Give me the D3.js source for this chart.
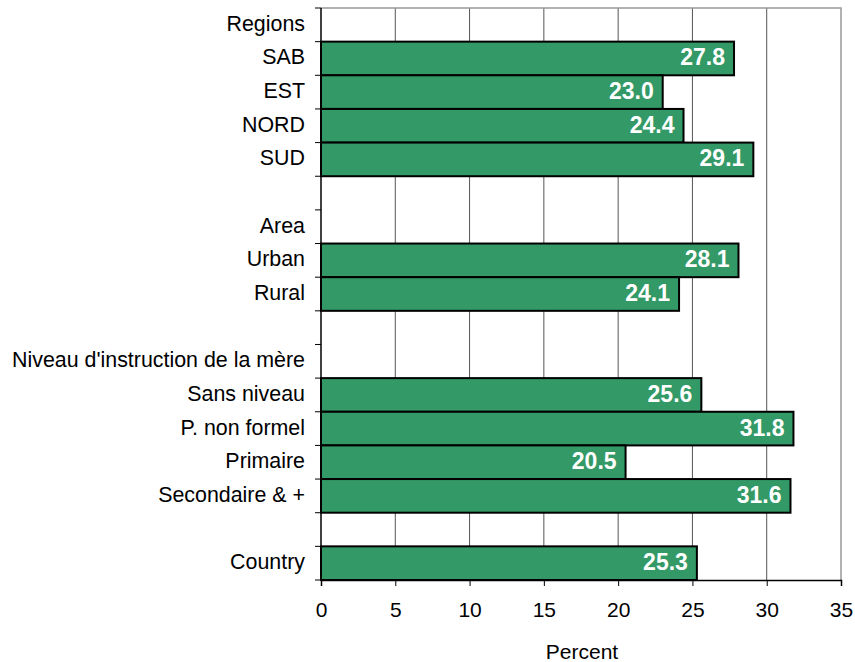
<!DOCTYPE html>
<html>
<head>
<meta charset="utf-8">
<script src="https://cdn.jsdelivr.net/npm/d3@7"></script>
<style>
  html, body { margin: 0; padding: 0; background: #fff; }
  text { font-family: "Liberation Sans", Arial, sans-serif; }
</style>
</head>
<body>
<div id="chart"></div>
<script>
// Row labels, top to bottom (blank rows separate the groups)
const categories = [
  "Regions", "SAB", "EST", "NORD", "SUD", "",
  "Area", "Urban", "Rural", "",
  "Niveau d'instruction de la mère", "Sans niveau", "P. non formel", "Primaire", "Secondaire & +", "",
  "Country"
];
// Percent per row (null = heading or spacer row, no bar)
const values = [
  null, 27.8, 23.0, 24.4, 29.1, null,
  null, 28.1, 24.1, null,
  null, 25.6, 31.8, 20.5, 31.6, null,
  25.3
];
const xTicks = [0, 5, 10, 15, 20, 25, 30, 35];
const xTitle = "Percent";

const W = 855, H = 662;
const plotL = 321, plotR = 841, plotT = 8, plotB = 580;

const svg = d3.select("#chart").append("svg")
  .attr("width", W).attr("height", H);

const x = d3.scaleLinear().domain([0, 35]).range([plotL, plotR]);
const y = d3.scaleBand().domain(d3.range(categories.length)).range([plotT, plotB]).padding(0);

// vertical gridlines
svg.append("g").selectAll("line")
  .data(xTicks.filter(t => t > 0 && t < 35))
  .join("line")
  .attr("x1", d => x(d)).attr("x2", d => x(d))
  .attr("y1", plotT).attr("y2", plotB)
  .attr("stroke", "#555").attr("stroke-width", 1);

// plot frame: top and right edges
svg.append("path")
  .attr("d", `M${plotL},${plotT}H${plotR}V${plotB}`)
  .attr("fill", "none").attr("stroke", "#999").attr("stroke-width", 1.5);

const rows = categories.map((c, i) => ({ i, label: c, v: values[i] }));

// bars
svg.append("g").selectAll("rect")
  .data(rows.filter(r => r.v != null))
  .join("rect")
  .attr("x", x(0))
  .attr("y", d => y(d.i))
  .attr("width", d => x(d.v) - x(0))
  .attr("height", y.bandwidth())
  .attr("fill", "#339966")
  .attr("stroke", "#000").attr("stroke-width", 2);

// value labels inside bar ends
svg.append("g").selectAll("text")
  .data(rows.filter(r => r.v != null))
  .join("text")
  .attr("x", d => x(d.v) - 9)
  .attr("y", d => y(d.i) + y.bandwidth() / 2 - 1)
  .attr("text-anchor", "end")
  .attr("dominant-baseline", "central")
  .attr("fill", "#fff")
  .attr("font-weight", "bold")
  .attr("font-size", 23)
  .text(d => d.v.toFixed(1));

// y axis line and boundary ticks
svg.append("line")
  .attr("x1", plotL).attr("x2", plotL).attr("y1", plotT).attr("y2", plotB)
  .attr("stroke", "#000").attr("stroke-width", 1.5);
const bounds = d3.range(categories.length + 1).map(i => plotT + i * y.step());
svg.append("g").selectAll("line")
  .data(bounds)
  .join("line")
  .attr("x1", plotL - 6).attr("x2", plotL)
  .attr("y1", d => d).attr("y2", d => d)
  .attr("stroke", "#000").attr("stroke-width", 1);

// category labels
svg.append("g").selectAll("text")
  .data(rows.filter(r => r.label))
  .join("text")
  .attr("x", plotL - 16)
  .attr("y", d => y(d.i) + y.bandwidth() / 2 - 1)
  .attr("text-anchor", "end")
  .attr("dominant-baseline", "central")
  .attr("fill", "#000")
  .attr("font-size", 21.4)
  .text(d => d.label);

// x axis
const xAxis = svg.append("g")
  .attr("transform", `translate(0,${plotB})`)
  .call(d3.axisBottom(x).tickValues(xTicks).tickSize(6).tickPadding(16).tickFormat(d3.format("d")));
xAxis.select(".domain").attr("stroke", "#000").attr("stroke-width", 1.5);
xAxis.selectAll(".tick line").attr("stroke", "#000");
xAxis.selectAll(".tick text")
  .attr("font-family", "Liberation Sans, Arial, sans-serif")
  .attr("font-size", 21).attr("fill", "#000");

svg.append("text")
  .attr("x", 582)
  .attr("y", 659)
  .attr("text-anchor", "middle")
  .attr("font-size", 21)
  .attr("fill", "#000")
  .text(xTitle);
</script>
</body>
</html>
